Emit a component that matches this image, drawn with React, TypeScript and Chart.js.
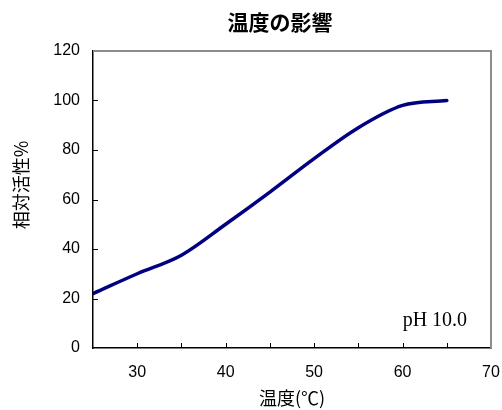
import React, { useEffect, useRef } from "react";
import { Chart, registerables } from "chart.js";

Chart.register(...registerables);

const temperatures = [25, 30, 35, 40, 45, 50, 55, 60, 65];
const activity = [22, 30, 37.5, 50, 63, 76.5, 89, 98, 100];
const chartTitle = "温度の影響";
const xTitle = "温度(℃)";
const yTitle = "相対活性%";
const note = "pH 10.0";

const decorPlugin = {
  id: "decor",
  afterDatasetsDraw(chart: any) {
    const { ctx, chartArea, scales } = chart;
    const { left, right, top, bottom } = chartArea;
    ctx.save();
    // frame top & right
    ctx.strokeStyle = "#8c8c8c";
    ctx.lineWidth = 2;
    ctx.beginPath();
    ctx.moveTo(left, top);
    ctx.lineTo(right, top);
    ctx.lineTo(right, bottom);
    ctx.stroke();
    // inward ticks
    ctx.strokeStyle = "#000";
    ctx.lineWidth = 1;
    ctx.beginPath();
    scales.x.ticks.forEach((t: any) => {
      if (t.value <= scales.x.min || t.value >= scales.x.max) return;
      const px = Math.round(scales.x.getPixelForValue(t.value)) + 0.5;
      ctx.moveTo(px, bottom);
      ctx.lineTo(px, bottom - 5);
    });
    scales.y.ticks.forEach((t: any) => {
      if (t.value <= scales.y.min || t.value >= scales.y.max) return;
      const py = Math.round(scales.y.getPixelForValue(t.value)) + 0.5;
      ctx.moveTo(left, py);
      ctx.lineTo(left + 5, py);
    });
    ctx.stroke();
    // title
    ctx.fillStyle = "#000";
    ctx.font = "bold 21px 'Noto Sans CJK JP', sans-serif";
    ctx.textAlign = "center";
    ctx.textBaseline = "middle";
    ctx.fillText(chartTitle, 280, 22);
    // y axis title
    ctx.save();
    ctx.translate(21, 185);
    ctx.rotate(-Math.PI / 2);
    ctx.font = "18px 'Noto Sans CJK JP', sans-serif";
    ctx.fillText(yTitle, 0, 0);
    ctx.restore();
    // note
    ctx.font = "20px 'Liberation Serif', serif";
    ctx.textAlign = "right";
    ctx.textBaseline = "alphabetic";
    ctx.fillText(note, scales.x.getPixelForValue(67.3), scales.y.getPixelForValue(9));
    ctx.restore();
  },
};

export default function App() {
  const ref = useRef<HTMLCanvasElement | null>(null);
  useEffect(() => {
    if (!ref.current) return;
    const chart = new Chart(ref.current, {
      type: "line",
      data: {
        datasets: [
          {
            data: temperatures.map((t, i) => ({ x: t, y: activity[i] })),
            borderColor: "#000080",
            borderWidth: 3.5,
            pointRadius: 0,
            cubicInterpolationMode: "monotone",
            borderCapStyle: "round",
            fill: false,
          },
        ],
      },
      options: {
        animation: false,
        responsive: false,
        maintainAspectRatio: false,
        layout: { padding: { left: 0, right: 11, top: 51, bottom: 0 } },
        plugins: {
          legend: { display: false },
          tooltip: { enabled: false },
          title: { display: false },
        },
        scales: {
          x: {
            type: "linear",
            min: 25,
            max: 70,
            afterFit: (s: any) => {
              s.height = 62;
              s.paddingLeft = 0;
              s.paddingRight = 0;
            },
            ticks: {
              stepSize: 5,
              padding: 15,
              color: "#000",
              font: { family: "'Liberation Sans', Arial, sans-serif", size: 16 },
              callback: (v: any) => (Number(v) % 10 === 0 && Number(v) > 25 ? String(v) : ""),
              maxRotation: 0,
              autoSkip: false,
            },
            grid: { drawOnChartArea: false, drawTicks: false },
            border: { display: true, color: "#000", width: 1.5 },
            title: {
              display: true,
              text: xTitle,
              color: "#000",
              font: { family: "'Noto Sans CJK JP', sans-serif", size: 18 },
              padding: { top: 0, bottom: 1 },
            },
          },
          y: {
            min: 0,
            max: 120,
            afterFit: (s: any) => {
              s.width = 93;
              s.paddingTop = 0;
              s.paddingBottom = 0;
            },
            ticks: {
              stepSize: 20,
              padding: 13,
              color: "#000",
              font: { family: "'Liberation Sans', Arial, sans-serif", size: 16 },
            },
            grid: { drawOnChartArea: false, drawTicks: false },
            border: { display: true, color: "#000", width: 1.5 },
          },
        },
      },
      plugins: [decorPlugin],
    } as any);
    return () => chart.destroy();
  }, []);
  return (
    <div style={{ position: "fixed", left: 0, top: 0, width: 502, height: 410, background: "#fff" }}>
      <canvas ref={ref} width={502} height={410} style={{ width: 502, height: 410, display: "block" }} />
    </div>
  );
}
